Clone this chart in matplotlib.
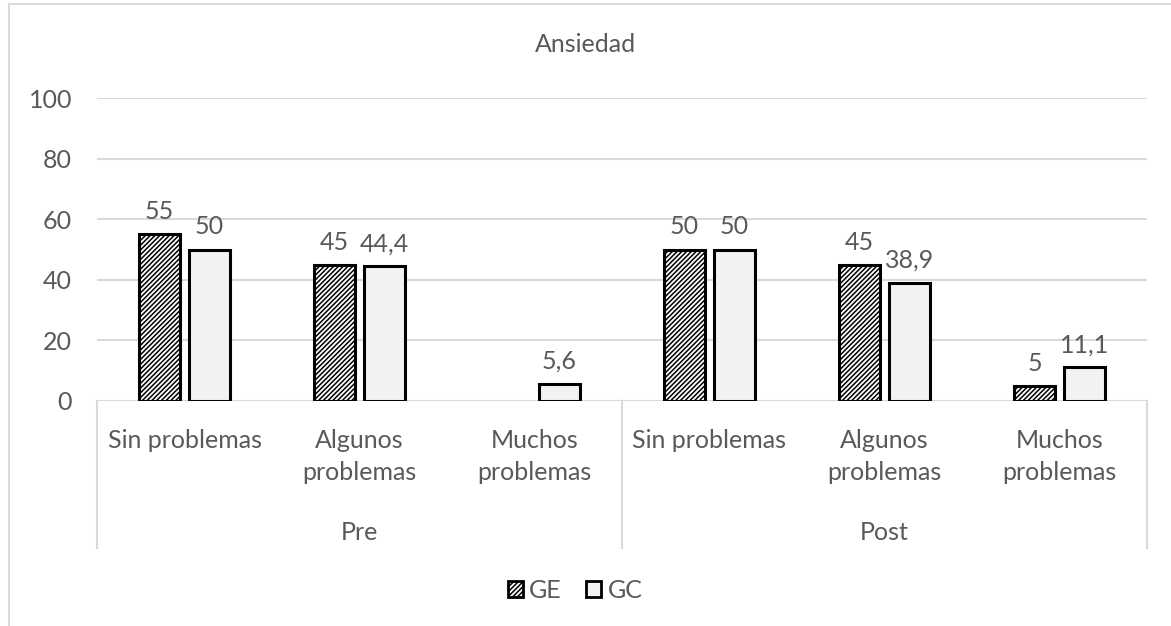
import matplotlib
matplotlib.use("Agg")
from matplotlib import pyplot as plt
from matplotlib.patches import Patch, Rectangle
import numpy as np

plt.rcParams['font.family'] = ['Lato', 'DejaVu Sans']
plt.rcParams['hatch.linewidth'] = 1.1

categories = ["Sin problemas", "Algunos\nproblemas", "Muchos\nproblemas",
              "Sin problemas", "Algunos\nproblemas", "Muchos\nproblemas"]
groups = ["Pre", "Post"]
ge = [55, 45, 0, 50, 45, 5]
gc = [50, 44.4, 5.6, 50, 38.9, 11.1]
ge_labels = ["55", "45", "", "50", "45", "5"]
gc_labels = ["50", "44,4", "5,6", "50", "38,9", "11,1"]
yticks = [0, 20, 40, 60, 80, 100]

txt = "#595959"
grid = "#d9d9d9"
fs = 18

W, H = 1171, 626
fig = plt.figure(figsize=(W / 100, H / 100), dpi=100)
fig.patches.append(Rectangle((8.5 / W, -1), 2, 2 - 4 / H, transform=fig.transFigure,
                             fill=False, edgecolor=grid, linewidth=1.5))

ax = fig.add_axes([97 / W, 1 - 401 / H, 1050 / W, 303 / H])
x = np.arange(len(categories))
w = 0.23
off = 0.143
b1 = ax.bar(x - off, ge, w, facecolor="white", edgecolor="black", hatch="///////", linewidth=2.2, zorder=3)
b2 = ax.bar(x + off, gc, w, facecolor="#f2f2f2", edgecolor="black", linewidth=2.2, zorder=3)
for p, v in zip(b1.patches, ge):
    if v == 0:
        p.set_visible(False)
ax.bar_label(b1, labels=ge_labels, padding=8, color=txt, fontsize=fs)
ax.bar_label(b2, labels=gc_labels, padding=8, color=txt, fontsize=fs)

ax.set_xlim(-0.5, len(categories) - 0.5)
ax.set_ylim(0, 100)
ax.set_yticks(yticks)
ax.set_yticklabels([str(v) for v in yticks], color=txt, fontsize=fs)
ax.tick_params(axis='y', length=0, pad=18)
ax.set_xticks([])
ax.grid(axis='y', color=grid, linewidth=1.5, zorder=0)
for s in ax.spines.values():
    s.set_visible(False)
ax.axhline(0, color=grid, linewidth=1.5, zorder=2)

tr = ax.get_xaxis_transform()
for i, c in enumerate(categories):
    for k, line in enumerate(c.split("\n")):
        ax.text(i, (401 - (440 + 32 * k)) / 303, line, transform=tr, ha='center', va='center',
                color=txt, fontsize=fs)
for j, g in enumerate(groups):
    ax.text(j * 3 + 1, (401 - 532) / 303, g, transform=tr, ha='center', va='center', color=txt, fontsize=fs)
for xs in [-0.5, 2.5, 5.5]:
    ax.plot([xs, xs], [0, (401 - 548) / 303], transform=tr, color=grid, linewidth=1.5, clip_on=False)

fig.text(585 / W, 1 - 45 / H, "Ansiedad", ha='center', va='center', color=txt, fontsize=fs)

handles = [Patch(facecolor="white", edgecolor="black", hatch="///////", linewidth=2.0),
           Patch(facecolor="#f2f2f2", edgecolor="black", linewidth=2.0)]
leg = fig.legend(handles, ["GE", "GC"], loc='center', bbox_to_anchor=(575 / W, 1 - 590 / H),
                 ncol=2, frameon=False, fontsize=fs, handlelength=0.6, handleheight=0.6,
                 handletextpad=0.25, columnspacing=1.0)
for t in leg.get_texts():
    t.set_color(txt)

fig.savefig("out.png", dpi=100)
